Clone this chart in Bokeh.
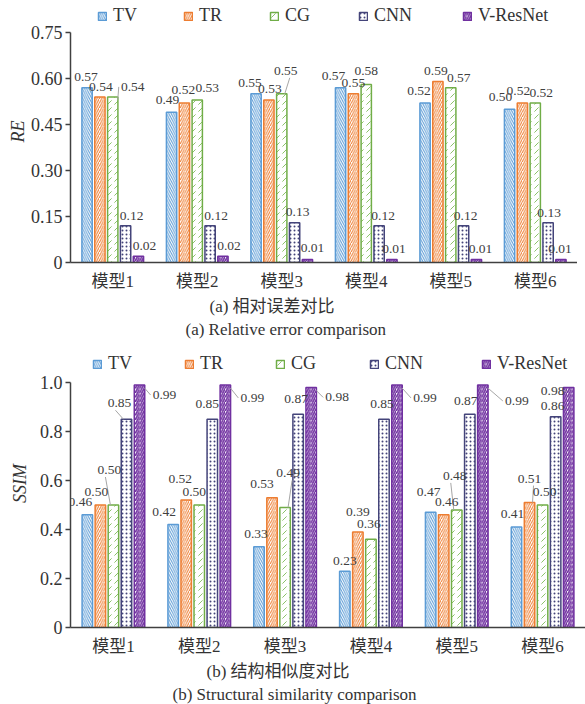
from bokeh.plotting import figure
from bokeh.models import (Range1d, FactorRange, FixedTicker, Legend, LegendItem,
                          Title, ColumnDataSource)
from bokeh.transform import dodge
from bokeh.layouts import column
from bokeh.embed import file_html
from bokeh.resources import INLINE
from bokeh.core.properties import value

# ---------------- data ----------------
models = ["模型1", "模型2", "模型3", "模型4", "模型5", "模型6"]
methods = ["TV", "TR", "CG", "CNN", "V-ResNet"]

re_tv = [0.57, 0.49, 0.55, 0.57, 0.52, 0.50]
re_tr = [0.54, 0.52, 0.53, 0.55, 0.59, 0.52]
re_cg = [0.54, 0.53, 0.55, 0.58, 0.57, 0.52]
re_cnn = [0.12, 0.12, 0.13, 0.12, 0.12, 0.13]
re_vres = [0.02, 0.02, 0.01, 0.01, 0.01, 0.01]

ssim_tv = [0.46, 0.42, 0.33, 0.23, 0.47, 0.41]
ssim_tr = [0.50, 0.52, 0.53, 0.39, 0.46, 0.51]
ssim_cg = [0.50, 0.50, 0.49, 0.36, 0.48, 0.50]
ssim_cnn = [0.85, 0.85, 0.87, 0.85, 0.87, 0.86]
ssim_vres = [0.99, 0.99, 0.98, 0.99, 0.99, 0.98]

re_ticks = [0, 0.15, 0.30, 0.45, 0.60, 0.75]
re_tick_labels = ["0", "0.15", "0.30", "0.45", "0.60", "0.75"]
ssim_ticks = [0, 0.2, 0.4, 0.6, 0.8, 1.0]
ssim_tick_labels = ["0", "0.2", "0.4", "0.6", "0.8", "1.0"]

# ---------------- styles ----------------
LINE = ["#5B9BD5", "#ED7D31", "#70AD47", "#44447A", "#7030A0"]
HATCH_COL = ["#5B9BD5", "#ED7D31", "#8CC26A", "#44447A", "#7030A0"]
HATCH = ["\\", "/", ",", ".", "/"]
HATCH_SCALE = [4.5, 4.5, 7, 4, 4.5]
HATCH_W = [1.0, 1.0, 1.0, 1.2, 1.6]
OFFS = [-0.304, -0.152, 0.0, 0.152, 0.304]
BAR_W = 0.122
SERIF = "Liberation Serif"
MIXED = "Liberation Serif, Noto Sans CJK SC"
TXT = "#333333"
AXC = "#404040"

# label offsets in pixels (dx, dy) relative to bar top centre
re_dx = [[-1, -4, -6, -7, -6, -9], [1, -1, 1, 0, -2, -4], [20, 10, 4, 0, 8, 6],
         [6, 6, 3, 4, 2, 1], [6, 6, 5, 2, 4, -1]]
re_dy = [[-11, -12, -11, -12, -12, -12], [-10, -13, -11, -11, -11, -12],
         [-10, -12, -23, -14, -10, -10], [-10, -10, -11, -10, -10, -10],
         [-10, -10, -11, -10, -10, -10]]
re_leaders = [(2, 0), (2, 2)]

ss_dx = [[-7, -9, -3, 0, -2, -4], [-4, -6, -10, 0, 3, 0], [-4, -5, 3, -2, -2, 2],
         [-7, -5, -2, -2, -4, -3], [25, 27, 26, 28, 34, -16]]
ss_dy = [[-13, -13, -13, -10, -20, -13], [-13, -21, -14, -20, -13, -24],
         [-35, -13, -34, -15, -34, -13], [-16, -15, -15, -15, -13, -11],
         [10, 13, 10, 13, 16, 4]]
ss_leaders = [(2, 0), (3, 0), (4, 0), (4, 1), (4, 2), (4, 3), (4, 4), (4, 5),
              (2, 2), (2, 4), (1, 5)]


def make_chart(series, ticks, tick_labels, y_bound, px_per_unit, frame_w, frame_h,
               ylabel, ylabel_standoff, dxs, dys, leaders, legend_x, legend_vy,
               cap_cn, cap_en, cap_cn_off, cap_en_off):
    y_end = frame_h / px_per_unit
    p = figure(x_range=FactorRange(*models, range_padding=0, factor_padding=0),
               y_range=Range1d(0, y_end),
               frame_width=frame_w, frame_height=frame_h,
               min_border_left=70, min_border_right=0, min_border_top=0,
               min_border_bottom=0,
               output_backend="svg", toolbar_location=None, tools="")
    p.outline_line_color = None
    p.background_fill_color = "white"
    p.border_fill_color = "white"
    p.xgrid.grid_line_color = None
    p.ygrid.grid_line_color = None

    src = {"model": models}
    for k, vals in enumerate(series):
        src["v%d" % k] = vals
    source = ColumnDataSource(src)

    renderers = []
    for k in range(5):
        r = p.vbar(x=dodge("model", OFFS[k], range=p.x_range), top="v%d" % k,
                   width=BAR_W, source=source,
                   fill_color="white", line_color=LINE[k], line_width=1.5,
                   hatch_pattern=HATCH[k], hatch_color=HATCH_COL[k],
                   hatch_scale=HATCH_SCALE[k], hatch_weight=HATCH_W[k])
        renderers.append(r)

    # leader lines (computed from the bar tops and label offsets)
    ppx = frame_w / len(models)
    x0s, y0s, x1s, y1s = [], [], [], []
    for (k, i) in leaders:
        v = series[k][i]
        bx = i + 0.5 + OFFS[k]
        dx, dy = dxs[k][i], dys[k][i]
        if abs(dx) > 12:
            sgn = 1 if dx > 0 else -1
            sx = bx + sgn * 5 / ppx
            sy = v - 3 / px_per_unit
            ex = bx + (dx - sgn * 14) / ppx
            ey = v - dy / px_per_unit
        else:
            sx = bx + (3 if dx >= 0 else -3) / ppx
            sy = v
            ex = bx + dx / ppx + (4 if dx >= 0 else -4) / ppx
            ey = v + (-dy - 7) / px_per_unit
        x0s.append(sx); y0s.append(sy); x1s.append(ex); y1s.append(ey)
    if x0s:
        p.segment(x0=x0s, y0=y0s, x1=x1s, y1=y1s, line_color="#A6A6A6",
                  line_width=1)

    # data labels
    for k in range(5):
        lab = ColumnDataSource({"model": models, "v": series[k],
                                "t": ["%.2f" % v for v in series[k]],
                                "dx": dxs[k], "dy": dys[k]})
        p.text(x=dodge("model", OFFS[k], range=p.x_range), y="v", text="t",
               x_offset="dx", y_offset="dy", source=lab,
               text_font=value(SERIF), text_font_size="13.5px",
               text_color="#404040", text_align="center",
               text_baseline="middle")

    # legends, one item each
    for k in range(5):
        lg = Legend(items=[LegendItem(label=methods[k], renderers=[renderers[k]])],
                    location=(legend_x[k], legend_vy), orientation="horizontal",
                    padding=0, margin=0, spacing=0, border_line_color=None,
                    background_fill_alpha=0, glyph_width=10, glyph_height=10,
                    label_standoff=6, label_text_font=SERIF,
                    label_text_font_size="18px", label_text_color=TXT,
                    label_height=18)
        p.add_layout(lg, "center")

    # axes
    yax = p.yaxis[0]
    yax.ticker = FixedTicker(ticks=ticks)
    yax.major_label_overrides = {t: l for t, l in zip(ticks, tick_labels)}
    yax.bounds = y_bound
    yax.axis_line_color = AXC
    yax.axis_line_width = 1.5
    yax.major_tick_line_color = AXC
    yax.major_tick_line_width = 1.5
    yax.major_tick_out = 5
    yax.major_tick_in = 0
    yax.minor_tick_line_color = None
    yax.major_label_standoff = 3
    yax.major_label_text_font = SERIF
    yax.major_label_text_font_size = "18px"
    yax.major_label_text_color = TXT
    yax.axis_label = ylabel
    yax.axis_label_text_font = SERIF
    yax.axis_label_text_font_style = "italic"
    yax.axis_label_text_font_size = "18px"
    yax.axis_label_text_color = TXT
    yax.axis_label_standoff = ylabel_standoff

    xax = p.xaxis[0]
    xax.axis_line_color = AXC
    xax.axis_line_width = 1.5
    xax.major_tick_line_color = None
    xax.minor_tick_line_color = None
    xax.major_label_standoff = 3
    xax.major_label_text_font = MIXED
    xax.major_label_text_font_size = "17px"
    xax.major_label_text_color = TXT

    p.add_layout(Title(text=cap_cn, align="left", offset=cap_cn_off,
                       text_font=MIXED, text_font_size="17px",
                       text_font_style="normal", text_color=TXT, standoff=2),
                 "below")
    p.add_layout(Title(text=cap_en, align="left", offset=cap_en_off,
                       text_font=SERIF, text_font_size="17px",
                       text_font_style="normal", text_color=TXT, standoff=2),
                 "below")
    return p


pa = make_chart([re_tv, re_tr, re_cg, re_cnn, re_vres], re_ticks, re_tick_labels,
                (0, 0.75), 306.7, 507, 262, "RE", 0, re_dx, re_dy, re_leaders,
                [27, 113, 199, 288, 392], 236,
                "(a) 相对误差对比", "(a) Relative error comparison", 139, 115)
pb = make_chart([ssim_tv, ssim_tr, ssim_cg, ssim_cnn, ssim_vres], ssim_ticks,
                ssim_tick_labels, (0, 1.0), 245.0, 515, 288, "SSIM", 7, ss_dx, ss_dy,
                ss_leaders, [22, 114, 205, 299, 411], 253,
                "(b) 结构相似度对比", "(b) Structural similarity comparison", 136, 102)

layout = column(pa, pb, spacing=0)
open("out.html", "w").write(file_html(layout, INLINE))
